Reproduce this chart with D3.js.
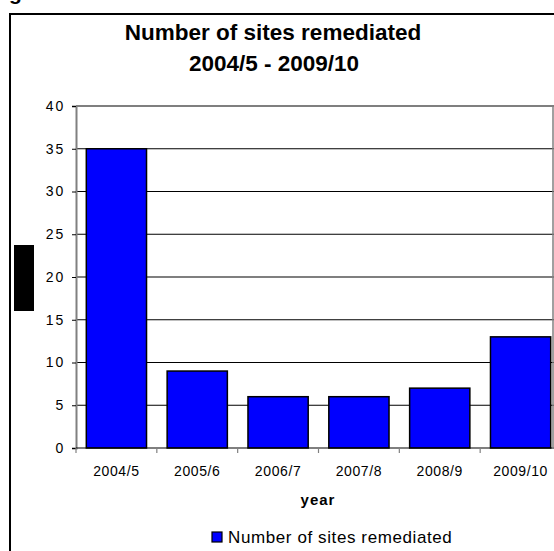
<!DOCTYPE html>
<html>
<head>
<meta charset="utf-8">
<script src="https://cdn.jsdelivr.net/npm/d3@7"></script>
<style>
  body { margin: 0; background: #fff; }
  svg { display: block; font-family: "Liberation Sans", Arial, sans-serif; }
</style>
</head>
<body>
<div id="chart"></div>
<script>
const years = ["2004/5", "2005/6", "2006/7", "2007/8", "2008/9", "2009/10"];
const sites = [35, 9, 6, 6, 7, 13];
const yTicks = [0, 5, 10, 15, 20, 25, 30, 35, 40];
const seriesName = "Number of sites remediated";

const width = 554, height = 551;
const margin = { top: 106, right: -7, bottom: 103, left: 76 };

const svg = d3.select("#chart")
    .append("svg")
        .attr("width", width)
        .attr("height", height);

// cropped caption above the frame
svg.append("text")
    .attr("x", 9)
    .attr("y", 0)
    .style("font-size", "21px")
    .style("font-weight", "bold")
    .text("g");

// chart area frame (left and top edges visible)
svg.append("path")
    .attr("d", `M10,${height} V14 H${width}`)
    .attr("fill", "none")
    .attr("stroke", "#000")
    .attr("stroke-width", 2);

// redacted axis title
svg.append("rect")
    .attr("x", 14).attr("y", 245)
    .attr("width", 20).attr("height", 66)
    .attr("fill", "#000");

svg.append("text")
    .attr("x", 273).attr("y", 40)
    .attr("text-anchor", "middle")
    .style("font-size", "22.5px")
    .style("font-weight", "bold")
    .text("Number of sites remediated");

svg.append("text")
    .attr("x", 274).attr("y", 71)
    .attr("text-anchor", "middle")
    .style("font-size", "22.5px")
    .style("font-weight", "bold")
    .text("2004/5 - 2009/10");

const x = d3.scaleBand()
    .domain(years)
    .range([margin.left, width - margin.right])
    .paddingInner(0.255)
    .paddingOuter(0.1275);

const y = d3.scaleLinear()
    .domain([0, 40])
    .range([height - margin.bottom, margin.top]);

// gridlines
svg.append("g")
    .selectAll("line")
    .data(yTicks.filter(d => d > 0))
    .join("line")
        .attr("x1", margin.left)
        .attr("x2", width)
        .attr("y1", d => y(d))
        .attr("y2", d => y(d))
        .attr("stroke", "#000")
        .attr("stroke-width", 1.2);

// y axis
const yAxis = svg.append("g")
    .attr("transform", `translate(${margin.left},0)`)
    .call(d3.axisLeft(y).tickValues(yTicks).tickSize(4).tickPadding(7));
yAxis.select(".domain").attr("stroke", "#808080").attr("stroke-width", 2);
yAxis.selectAll(".tick line").attr("stroke", "#000");
yAxis.selectAll(".tick text")
    .style("font-size", "14px")
    .style("letter-spacing", "1.8px")
    .attr("fill", "#000");

// bars
svg.append("g")
    .selectAll("rect")
    .data(years.map((yr, i) => ({ year: yr, value: sites[i] })))
    .join("rect")
        .attr("x", d => x(d.year))
        .attr("y", d => y(d.value))
        .attr("width", x.bandwidth())
        .attr("height", d => y(0) - y(d.value))
        .attr("fill", "#0000ff")
        .attr("stroke", "#000")
        .attr("stroke-width", 1.5);

// x axis with ticks at band boundaries
const xBase = y(0);
const bandStep = x.step();
const bandStart = margin.left;
svg.append("line")
    .attr("x1", margin.left).attr("x2", width)
    .attr("y1", xBase).attr("y2", xBase)
    .attr("stroke", "#000").attr("stroke-width", 1.2);
svg.append("g")
    .selectAll("line")
    .data(years)
    .join("line")
        .attr("x1", (d, i) => bandStart + i * bandStep)
        .attr("x2", (d, i) => bandStart + i * bandStep)
        .attr("y1", xBase)
        .attr("y2", xBase + 5)
        .attr("stroke", "#808080")
        .attr("stroke-width", 1.2);

svg.append("g")
    .selectAll("text")
    .data(years)
    .join("text")
        .attr("x", d => x(d) + x.bandwidth() / 2)
        .attr("y", xBase + 28)
        .attr("text-anchor", "middle")
        .style("font-size", "14px")
        .style("letter-spacing", "0.6px")
        .text(d => d);

// right edge of plot area
svg.append("line")
    .attr("x1", 553).attr("x2", 553)
    .attr("y1", margin.top).attr("y2", xBase)
    .attr("stroke", "#808080").attr("stroke-width", 1.5);

svg.append("text")
    .attr("x", 318).attr("y", 505)
    .attr("text-anchor", "middle")
    .style("font-size", "15px")
    .style("font-weight", "bold")
    .style("letter-spacing", "1px")
    .text("year");

// legend
const legend = svg.append("g").attr("transform", "translate(212,532)");
legend.append("rect")
    .attr("width", 10).attr("height", 10)
    .attr("fill", "#0000ff")
    .attr("stroke", "#000")
    .attr("stroke-width", 1.2);
legend.append("text")
    .attr("x", 16).attr("y", 11)
    .style("font-size", "17px")
    .style("letter-spacing", "0.6px")
    .text(seriesName);
</script>
</body>
</html>
